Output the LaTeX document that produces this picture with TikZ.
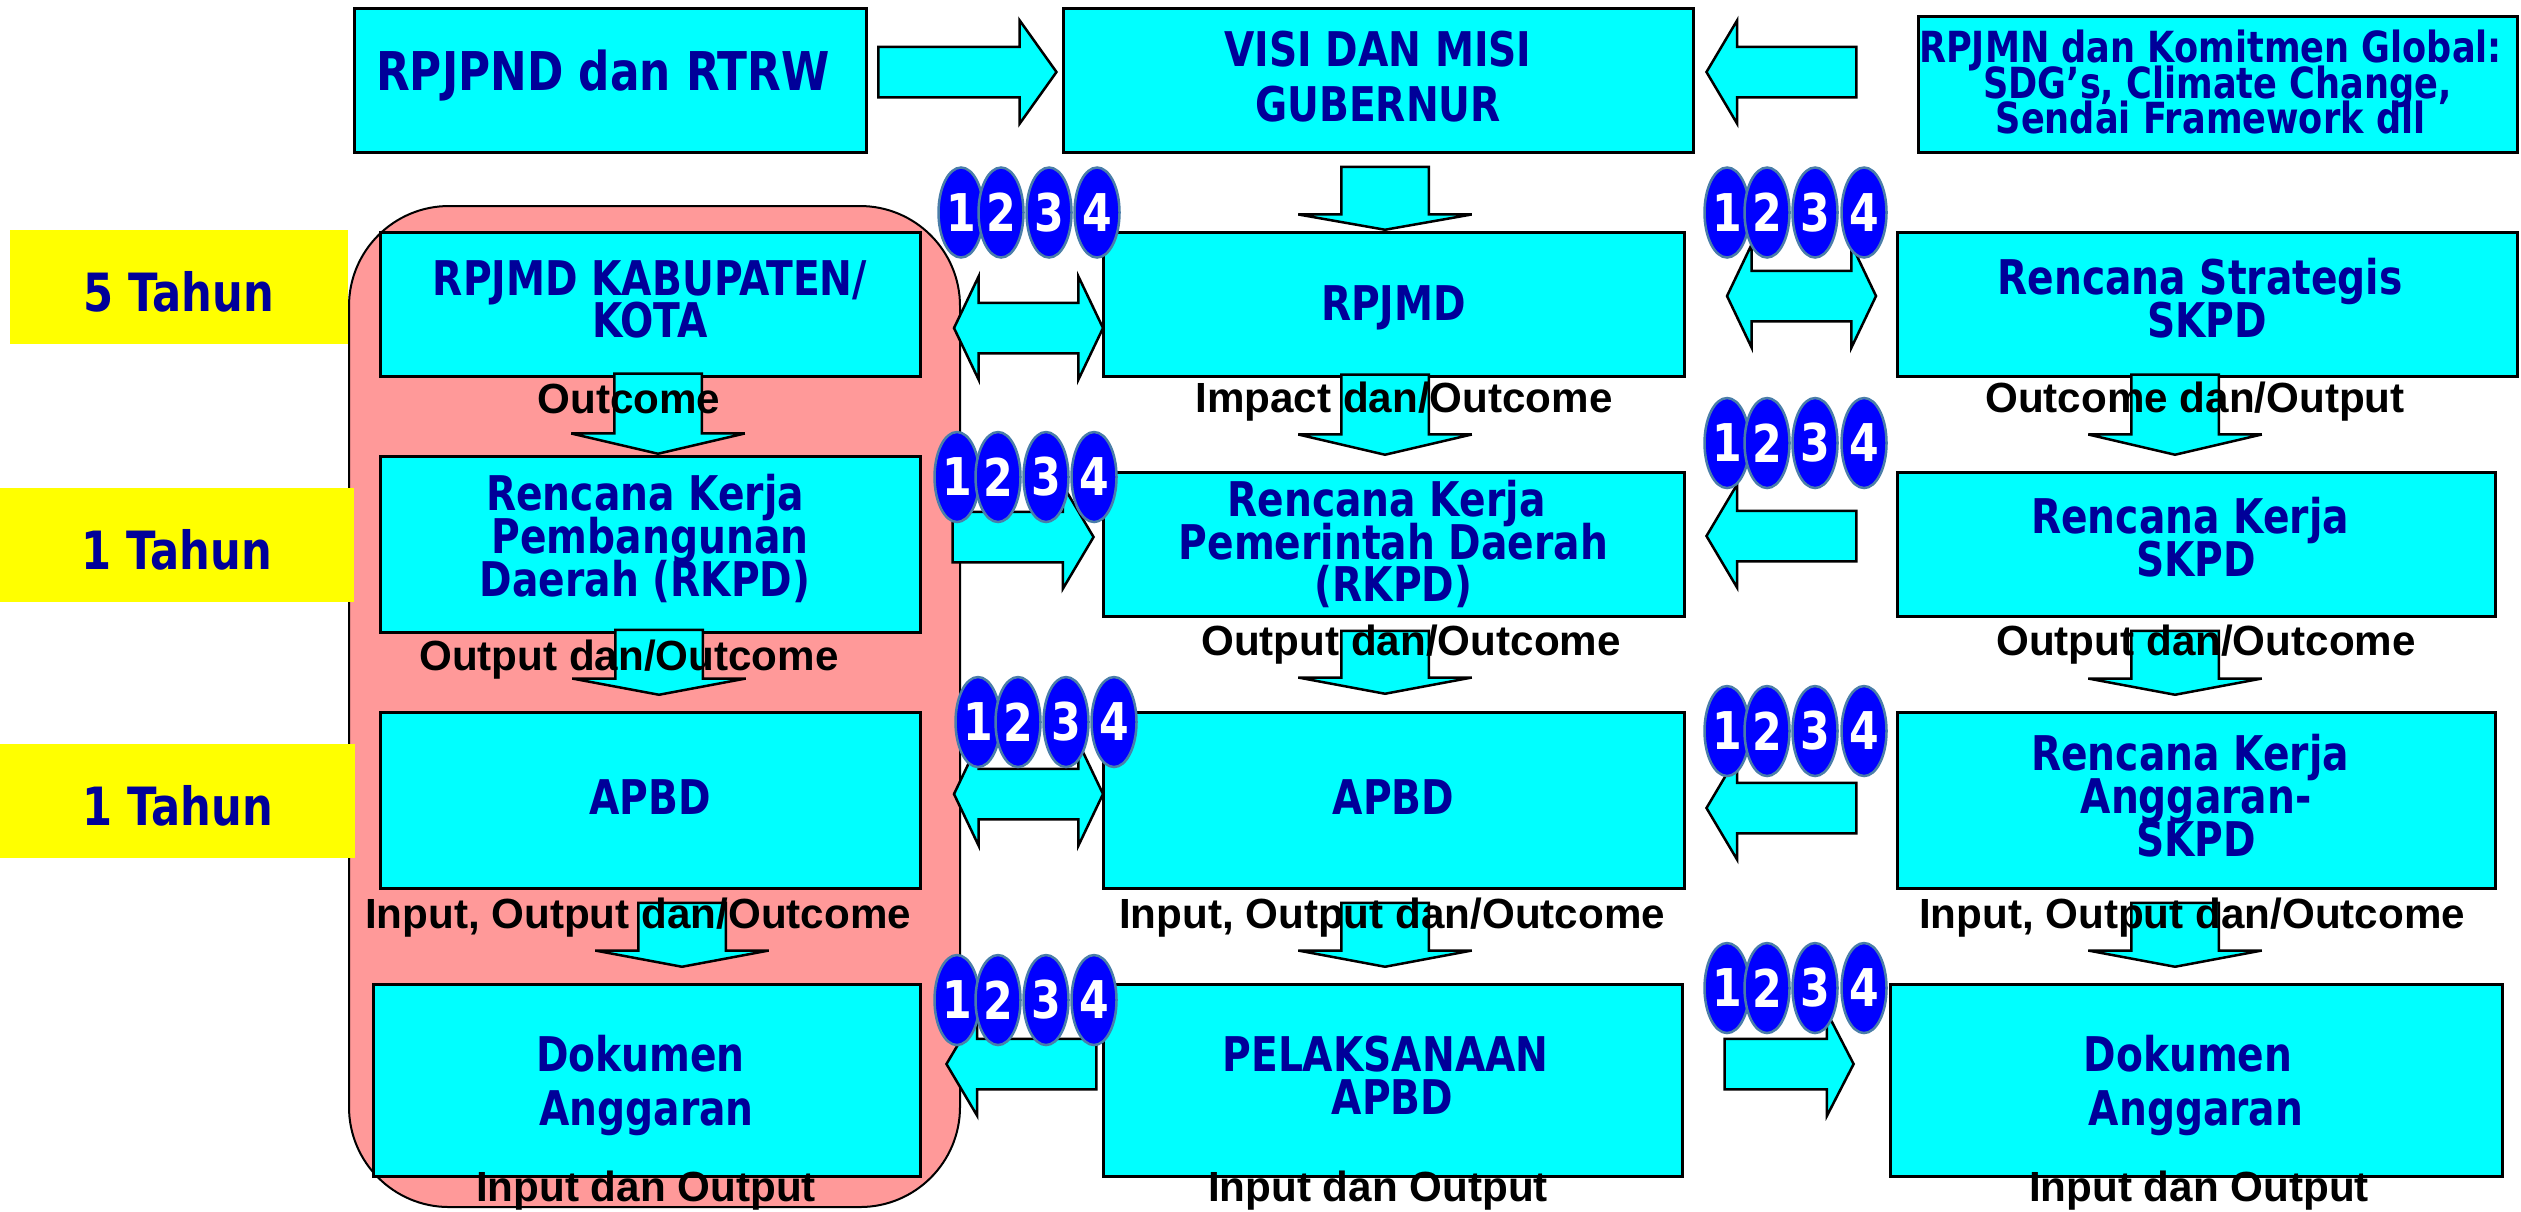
\documentclass[tikz,border=0pt]{standalone}
\usepackage{fontspec}
\usepackage{tikz}
\usetikzlibrary{shapes.arrows,shapes.geometric}
\newfontfamily\boxfont[FakeStretch=0.82]{DejaVu Sans}
\newfontfamily\capfont{Liberation Sans}
\definecolor{navy}{HTML}{000099}
\definecolor{pinkish}{HTML}{FF9999}
\definecolor{rim}{HTML}{4A7EA8}
\definecolor{aqua}{RGB}{0,255,255}
\definecolor{sun}{RGB}{255,255,0}
\definecolor{deep}{RGB}{0,0,255}
\tikzset{
panel/.style={rectangle,draw=black,line width=0.03cm,fill=aqua,text=navy,align=center,inner sep=0pt,font=\boxfont\bfseries\fontsize{13.6}{12.2}\selectfont\lineskiplimit -20pt\relax},
tag/.style={rectangle,fill=sun,text=navy,inner sep=0pt,minimum width=3.54cm,minimum height=1.14cm,text height=0.5cm,font=\boxfont\bfseries\fontsize{15}{15}\selectfont},
dot/.style={ellipse,draw=rim,line width=0.025cm,fill=deep,text=white,inner sep=0pt,minimum width=0.45cm,minimum height=0.9cm,font=\boxfont\bfseries\fontsize{14.8}{12.2}\selectfont},
note/.style={anchor=base,inner sep=0pt,font=\capfont\bfseries\fontsize{12}{12}\selectfont},
block/.style={single arrow,draw=black,line width=0.025cm,fill=aqua,inner xsep=0pt,inner ysep=0.24cm,anchor=tip,minimum width=1.01cm,single arrow head extend=0.265cm,single arrow head indent=0pt,single arrow tip angle=118.6},
drop/.style={block,shape border rotate=270,miter limit=2,inner xsep=0.425cm,inner ysep=0pt,minimum width=1.71cm,single arrow head extend=0.43cm,single arrow tip angle=158.8},
twin/.style={double arrow,draw=black,line width=0.025cm,fill=aqua,inner xsep=0pt,inner ysep=0.24cm,minimum width=1.01cm,minimum height=1.49cm,double arrow head extend=0.265cm,double arrow head indent=0pt,double arrow tip angle=129}
}
\begin{document}
\begin{tikzpicture}
\useasboundingbox (0,0) rectangle (25.21,-12.11);
% backing
\node[draw=black,line width=0.02cm,fill=pinkish,rounded corners=1cm,minimum width=6.11cm,minimum height=10.01cm,inner sep=0pt](back)at(6.545,-7.065){};
\node[tag,minimum width=3.38cm](t1) at(1.79,-2.87){5 Tahun};
\node[tag](t2) at(1.765,-5.45){1 Tahun};
\node[tag,minimum width=3.55cm](t3) at(1.775,-8.01){1 Tahun};
% top row
\node[panel,minimum width=5.12cm,minimum height=1.44cm,text depth=0.2cm,font=\boxfont\bfseries\fontsize{15.2}{15}\selectfont](top1) at(6.10,-0.80){RPJPND dan RTRW\hspace*{0.14cm}};
\node[panel,minimum width=6.30cm,minimum height=1.44cm,text depth=0.08cm](top2) at(13.78,-0.80){VISI DAN MISI\\[0.12cm]GUBERNUR};
\node[panel,minimum width=5.99cm,minimum height=1.36cm,text depth=0.04cm,font=\boxfont\bfseries\fontsize{12.2}{10.1}\selectfont\lineskiplimit -20pt\relax](top3) at(22.175,-0.84){RPJMN dan Komitmen Global:\hspace*{0.14cm}\\SDG’s, Climate Change,\hspace*{0.14cm}\\Sendai Framework dll\hspace*{0.14cm}};
% left column
\node[panel,minimum width=5.40cm,minimum height=1.44cm,text depth=0.1cm](l1) at(6.50,-3.04){RPJMD KABUPATEN/\\KOTA};
\node[panel,minimum width=5.40cm,minimum height=1.76cm,text depth=0.17cm](l2) at(6.50,-5.44){Rencana Kerja\hspace*{0.1cm}\\Pembangunan\hspace*{0.14cm}\\Daerah (RKPD)\hspace*{0.1cm}};
\node[panel,minimum width=5.40cm,minimum height=1.76cm,text depth=0.06cm](l3) at(6.50,-8.00){APBD};
\node[panel,minimum width=5.47cm,minimum height=1.92cm,text depth=0pt](l4) at(6.465,-10.80){Dokumen\hspace*{0.12cm}\\[0.11cm]Anggaran};
% middle column
\node[panel,minimum width=5.81cm,minimum height=1.44cm,text height=0.42cm](m1) at(13.935,-3.04){RPJMD};
\node[panel,minimum width=5.81cm,minimum height=1.44cm](m2) at(13.935,-5.44){Rencana Kerja\hspace*{0.14cm}\\Pemerintah Daerah\hspace*{0.14cm}\\(RKPD)};
\node[panel,minimum width=5.81cm,minimum height=1.76cm,text depth=0.06cm](m3) at(13.935,-8.00){APBD};
\node[panel,minimum width=5.79cm,minimum height=1.92cm,text depth=0.1cm](m4) at(13.925,-10.80){PELAKSANAAN\hspace*{0.14cm}\\APBD};
% right column
\node[panel,minimum width=6.20cm,minimum height=1.44cm,text depth=0.12cm](r1) at(22.07,-3.04){Rencana Strategis\hspace*{0.14cm}\\SKPD};
\node[panel,minimum width=5.98cm,minimum height=1.44cm,text depth=0.14cm](r2) at(21.96,-5.44){Rencana Kerja\hspace*{0.12cm}\\SKPD};
\node[panel,minimum width=5.98cm,minimum height=1.76cm,text depth=0.1cm](r3) at(21.96,-8.00){Rencana Kerja\hspace*{0.12cm}\\Anggaran-\\SKPD};
\node[panel,minimum width=6.12cm,minimum height=1.92cm,text depth=0pt](r4) at(21.96,-10.80){Dokumen\hspace*{0.16cm}\\[0.11cm]Anggaran};
% block arrows
\node[block,shape border rotate=0,minimum height=1.78cm,single arrow tip angle=109](a1) at(10.58,-0.72){};
\node[block,shape border rotate=180,minimum height=1.50cm](a2) at(17.05,-0.72){};
\node[block,shape border rotate=0,minimum height=1.41cm](a3) at(10.95,-5.37){};
\node[block,shape border rotate=180,minimum height=1.50cm](a4) at(17.05,-5.36){};
\node[block,shape border rotate=180,minimum height=1.50cm](a5) at(17.05,-8.08){};
\node[block,shape border rotate=180,minimum height=1.50cm](a6) at(9.45,-10.64){};
\node[block,shape border rotate=0,minimum height=1.29cm,single arrow tip angle=125.5](a7) at(18.55,-10.64){};
\node[twin](w1) at(10.285,-3.28){};
\node[twin](w2) at(10.285,-7.94){};
\node[twin](w3) at(18.015,-2.96){};
\node[drop,minimum height=0.63cm,single arrow tip angle=160](d1) at(13.85,-2.31){};
\node[drop,minimum height=0.80cm,single arrow tip angle=153.7](d2) at(6.58,-4.55){};
\node[drop,minimum height=0.80cm,single arrow tip angle=153.7](d3) at(13.85,-4.56){};
\node[drop,minimum height=0.80cm,single arrow tip angle=153.7](d4) at(21.75,-4.56){};
\node[drop,minimum height=0.65cm](d5) at(6.59,-6.96){};
\node[drop,minimum height=0.63cm](d6) at(13.85,-6.95){};
\node[drop,minimum height=0.64cm](d7) at(21.75,-6.96){};
\node[drop,minimum height=0.64cm](d8) at(6.82,-9.68){};
\node[drop,minimum height=0.64cm](d9) at(13.85,-9.68){};
\node[drop,minimum height=0.64cm](d10) at(21.75,-9.68){};
% numbered groups
\node[dot](g11) at(9.61,-2.125){1};
\node[dot](g12) at(10.01,-2.125){2};
\node[dot](g13) at(10.49,-2.125){3};
\node[dot](g14) at(10.97,-2.125){4};
\node[dot](g21) at(9.57,-4.77){1};
\node[dot](g22) at(9.98,-4.77){2};
\node[dot](g23) at(10.46,-4.77){3};
\node[dot](g24) at(10.94,-4.77){4};
\node[dot](g31) at(9.78,-7.22){1};
\node[dot](g32) at(10.18,-7.22){2};
\node[dot](g33) at(10.66,-7.22){3};
\node[dot](g34) at(11.14,-7.22){4};
\node[dot](g41) at(9.57,-10.00){1};
\node[dot](g42) at(9.98,-10.00){2};
\node[dot](g43) at(10.46,-10.00){3};
\node[dot](g44) at(10.94,-10.00){4};
\node[dot](g51) at(17.27,-2.125){1};
\node[dot](g52) at(17.67,-2.125){2};
\node[dot](g53) at(18.15,-2.125){3};
\node[dot](g54) at(18.64,-2.125){4};
\node[dot](g61) at(17.27,-4.43){1};
\node[dot](g62) at(17.67,-4.43){2};
\node[dot](g63) at(18.15,-4.43){3};
\node[dot](g64) at(18.64,-4.43){4};
\node[dot](g71) at(17.27,-7.31){1};
\node[dot](g72) at(17.67,-7.31){2};
\node[dot](g73) at(18.15,-7.31){3};
\node[dot](g74) at(18.64,-7.31){4};
\node[dot](g81) at(17.27,-9.88){1};
\node[dot](g82) at(17.67,-9.88){2};
\node[dot](g83) at(18.15,-9.88){3};
\node[dot](g84) at(18.64,-9.88){4};
% captions
\node[note](c1) at(6.29,-4.13){Outcome};
\node[note](c2) at(14.04,-4.12){Impact dan/Outcome};
\node[note](c3) at(21.95,-4.12){Outcome dan/Output};
\node[note](c4) at(6.29,-6.70){Output dan/Outcome};
\node[note](c5) at(14.11,-6.55){Output dan/Outcome};
\node[note](c6) at(22.06,-6.55){Output dan/Outcome};
\node[note](c7) at(6.38,-9.28){Input, Output dan/Outcome};
\node[note](c8) at(13.92,-9.28){Input, Output dan/Outcome};
\node[note](c9) at(21.92,-9.28){Input, Output dan/Outcome};
\node[note](c10) at(6.46,-12.01){Input dan Output};
\node[note](c11) at(13.78,-12.01){Input dan Output};
\node[note](c12) at(21.99,-12.01){Input dan Output};
\end{tikzpicture}
\end{document}
